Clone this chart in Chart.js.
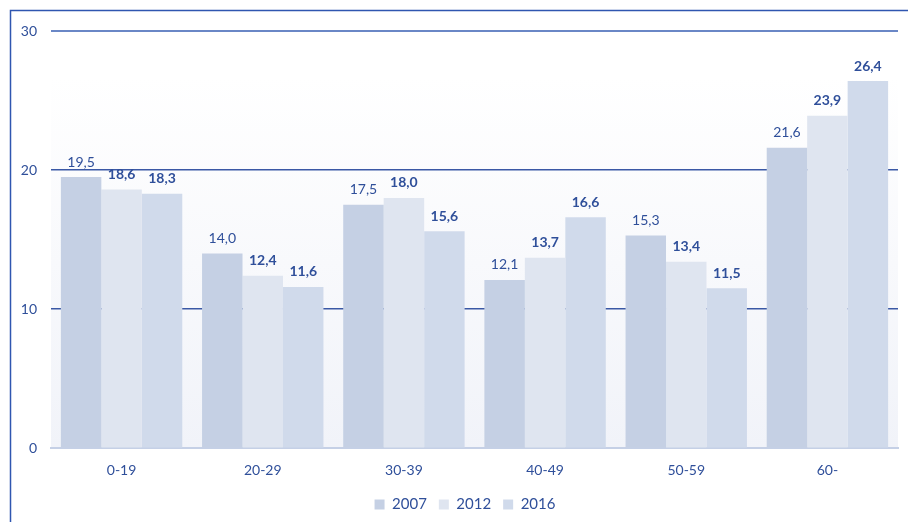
<!DOCTYPE html>
<html lang="fr">
<head>
    <meta charset="UTF-8">
    <title>Répartition par âge</title>
    <script src="https://cdn.jsdelivr.net/npm/chart.js"></script>
    <style>
        html, body { margin: 0; padding: 0; background: #fff; }
        #wrap { width: 908px; height: 522px; position: relative; }
    </style>
</head>
<body>
    <div id="wrap"><canvas id="myChart"></canvas></div>

    <script>
        // Données
        const categories = ['0-19', '20-29', '30-39', '40-49', '50-59', '60-'];
        const years = ['2007', '2012', '2016'];
        const values2007 = [19.5, 14.0, 17.5, 12.1, 15.3, 21.6];
        const values2012 = [18.6, 12.4, 18.0, 13.7, 13.4, 23.9];
        const values2016 = [18.3, 11.6, 15.6, 16.6, 11.5, 26.4];
        const yTicks = [0, 10, 20, 30];

        const textColor = '#2f4f9a';
        const fontFamily = 'Lato, "Open Sans", sans-serif';

        // Fond dégradé de la zone de tracé + cadre
        const backgroundPlugin = {
            id: 'plotBackground',
            afterLayout(chart) {
                // légende un peu décalée vers la droite comme dans l'original
                if (chart.legend) {
                    chart.legend.left += 16;
                    chart.legend.right += 16;
                }
            },
            beforeDraw(chart) {
                const { ctx, chartArea } = chart;
                const y = chart.scales.y;
                const top = y.getPixelForValue(26.7);
                const g = ctx.createLinearGradient(0, top, 0, chartArea.bottom);
                g.addColorStop(0, '#ffffff');
                g.addColorStop(1, '#f1f3f9');
                ctx.save();
                ctx.fillStyle = g;
                ctx.fillRect(chartArea.left, top, chartArea.right - chartArea.left, chartArea.bottom - top);
                // cadre
                ctx.strokeStyle = '#2f56b0';
                ctx.lineWidth = 1.5;
                ctx.beginPath();
                ctx.moveTo(10.5, 530);
                ctx.lineTo(10.5, 10.5);
                ctx.lineTo(920, 10.5);
                ctx.stroke();
                ctx.restore();
            }
        };

        // Étiquettes de valeurs
        const labelsPlugin = {
            id: 'valueLabels',
            afterDatasetsDraw(chart) {
                const { ctx } = chart;
                ctx.save();
                ctx.fillStyle = textColor;
                ctx.textAlign = 'center';
                ctx.textBaseline = 'bottom';
                chart.data.datasets.forEach((ds, i) => {
                    const meta = chart.getDatasetMeta(i);
                    ctx.font = (i === 0 ? 'normal ' : 'bold ') + '14px ' + fontFamily;
                    meta.data.forEach((bar, j) => {
                        const txt = ds.data[j].toFixed(1).replace('.', ',');
                        ctx.fillText(txt, bar.x, bar.y - 8);
                    });
                });
                ctx.restore();
            }
        };

        const ctx = document.getElementById('myChart');
        new Chart(ctx, {
            type: 'bar',
            data: {
                labels: categories,
                datasets: [
                    { label: years[0], data: values2007, backgroundColor: '#c5d0e4' },
                    { label: years[1], data: values2012, backgroundColor: '#dfe5f0' },
                    { label: years[2], data: values2016, backgroundColor: '#d0daeb' }
                ]
            },
            options: {
                responsive: true,
                maintainAspectRatio: false,
                animation: false,
                layout: { padding: { left: 0, right: 10, top: 31, bottom: 0 } },
                datasets: {
                    bar: { categoryPercentage: 0.86, barPercentage: 1.0 }
                },
                plugins: {
                    legend: {
                        position: 'bottom',
                        labels: {
                            boxWidth: 10,
                            boxHeight: 10,
                            padding: 12,
                            color: textColor,
                            font: { family: fontFamily, size: 15 }
                        }
                    },
                    tooltip: { enabled: false }
                },
                scales: {
                    x: {
                        grid: { display: false },
                        border: { color: '#c5d0e6', width: 2 },
                        ticks: {
                            color: textColor,
                            padding: 6,
                            font: { family: fontFamily, size: 14 }
                        }
                    },
                    y: {
                        min: 0,
                        max: 30,
                        afterBuildTicks(scale) {
                            scale.ticks = yTicks.map(v => ({ value: v }));
                        },
                        afterFit(scale) { scale.width = 51; },
                        border: { display: false },
                        grid: {
                            drawTicks: false,
                            color: c => c.tick.value === 30 ? '#6a87c6' : (c.tick.value === 0 ? 'rgba(0,0,0,0)' : '#3a58a5'),
                            lineWidth: c => c.tick.value === 30 ? 2 : 1.5
                        },
                        ticks: {
                            color: textColor,
                            padding: 14,
                            font: { family: fontFamily, size: 14 }
                        }
                    }
                }
            },
            plugins: [backgroundPlugin, labelsPlugin]
        });
    </script>
</body>
</html>
